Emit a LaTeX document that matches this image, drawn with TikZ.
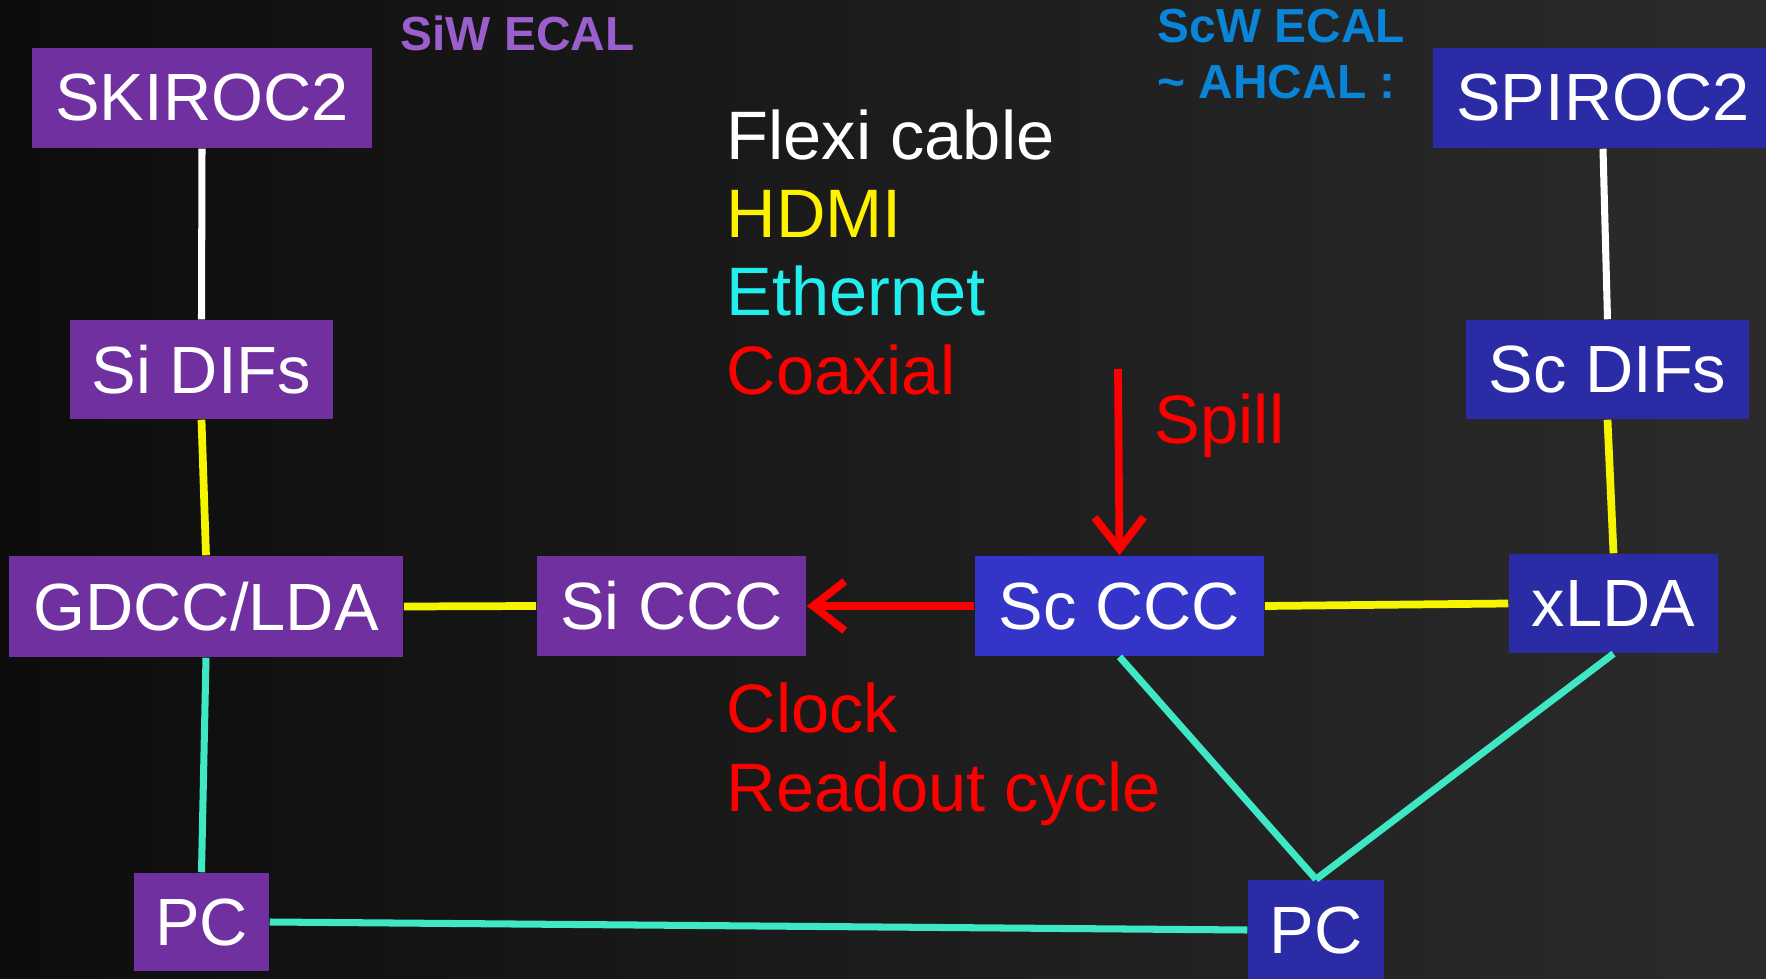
\documentclass[tikz,border=0pt]{standalone}
\usepackage{fontspec}
\setmainfont{Liberation Sans}
\usetikzlibrary{arrows.meta,positioning}
\definecolor{sipurple}{HTML}{7030A0}
\definecolor{scblue}{HTML}{2B2BA6}
\definecolor{scbright}{HTML}{3434C8}
\definecolor{siwtext}{HTML}{9A5FCC}
\definecolor{scwtext}{HTML}{0A84D6}
\definecolor{ethline}{HTML}{3FE8C4}
\definecolor{ethtext}{HTML}{22EEEE}
\definecolor{hdmiyel}{HTML}{F5F500}
\tikzset{
  box/.style={inner sep=0pt, text=white, font=\fontsize{19}{23}\selectfont},
  sibox/.style={box, fill=sipurple},
  scbox/.style={box, fill=scblue},
  legend/.style={anchor=base west, inner sep=0pt, font=\fontsize{19.5}{23}\selectfont},
  header/.style={inner sep=0pt, font=\fontsize{13.6}{16}\selectfont\bfseries},
  flexi/.style={draw=white, line width=2pt},
  hdmi/.style={draw=hdmiyel, line width=2.2pt},
  ether/.style={draw=ethline, line width=2pt},
  coax/.style={draw=red, line width=2.2pt, -{Straight Barb[length=9pt,width=14pt,line width=2.2pt]}}
}
\begin{document}
\begin{tikzpicture}[x=0.01cm, y=-0.01cm]
\useasboundingbox (0,0) rectangle (1766,979);
\clip (0,0) rectangle (1766,979);
\shade[left color=black!95, right color=black!83] (0,0) rectangle (1766,979);

\node[header, text=siwtext, anchor=base west] (siw) at (400,51) {SiW ECAL};
\node[header, text=scwtext, anchor=north west, align=left] (scw) at (1157,8) {ScW ECAL\\\textasciitilde{} AHCAL :};

\node[sibox, minimum width=3.40cm, minimum height=1.00cm] (skiroc) at (202,98) {SKIROC2};
\node[sibox, minimum width=2.63cm, minimum height=0.99cm] (sidif) at (201.5,369.5) {Si DIFs};
\node[sibox, minimum width=3.94cm, minimum height=1.01cm] (gdcc) at (206,606.5) {GDCC/LDA};
\node[sibox, minimum width=2.69cm, minimum height=1.00cm] (siccc) at (671.5,606) {Si CCC};
\node[sibox, minimum width=1.35cm, minimum height=0.98cm] (pcsi) at (201.5,922) {PC};

\node[scbox, minimum width=3.40cm, minimum height=1.00cm] (spiroc) at (1603,98) {SPIROC2};
\node[scbox, minimum width=2.83cm, minimum height=0.99cm] (scdif) at (1607.5,369.5) {Sc DIFs};
\node[scbox, fill=scbright, minimum width=2.89cm, minimum height=1.00cm] (scccc) at (1119.5,606) {Sc CCC};
\node[scbox, minimum width=2.09cm, minimum height=0.99cm] (xlda) at (1613.5,603.5) {xLDA};
\node[scbox, minimum width=1.36cm, minimum height=1.00cm] (pcsc) at (1316,930) {PC};

\node[legend, text=white] (lflexi) at (726,160) {Flexi cable};
\node[legend, text=yellow] (lhdmi) at (726,238) {HDMI};
\node[legend, text=ethtext] (leth) at (726,316) {Ethernet};
\node[legend, text=red] (lcoax) at (726,394) {Coaxial};
\node[legend, text=red] (spill) at (1154,443) {Spill};
\node[legend, text=red] (clock) at (726,732) {Clock};
\node[legend, text=red] (readout) at (726,811) {Readout cycle};

\coordinate (spilltop) at (1118,369);

\draw[flexi] (skiroc.south) -- (sidif.north);
\draw[flexi] (spiroc.south) -- (scdif.north);
\draw[hdmi] (sidif.south) -- (gdcc.north);
\draw[hdmi] (gdcc.east) -- (siccc.west);
\draw[hdmi] (scdif.south) -- (xlda.north);
\draw[hdmi] (scccc.east) -- (xlda.west);
\draw[ether] (gdcc.south) -- (pcsi.north);
\draw[ether] (pcsi.east) -- (pcsc.west);
\draw[ether] (scccc.south) -- (pcsc.north);
\draw[ether] (xlda.south) -- (pcsc.north);
\draw[coax] (scccc.west) -- (siccc.east);
\draw[coax] (spilltop) -- (scccc.north);
\end{tikzpicture}
\end{document}
